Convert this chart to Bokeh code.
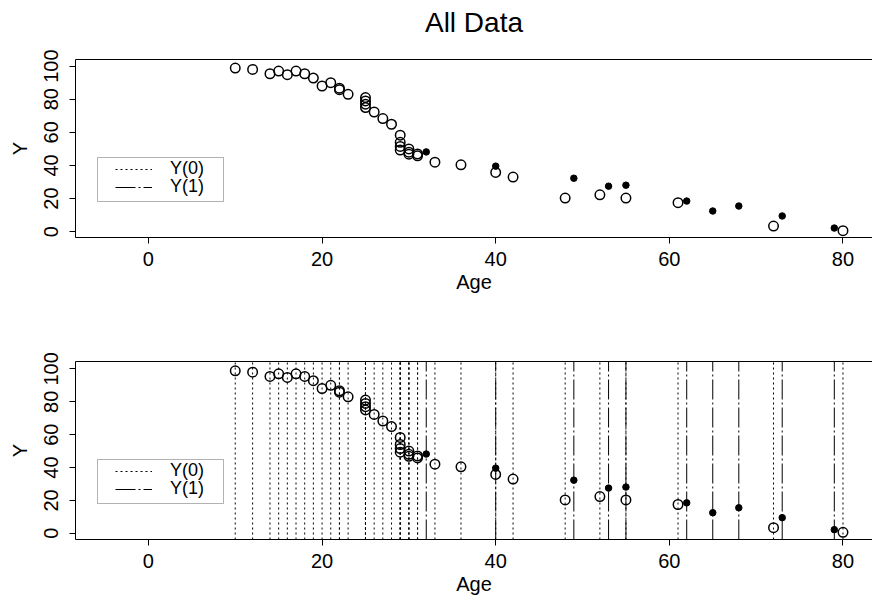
from bokeh.plotting import figure
from bokeh.models import (Range1d, FixedTicker, LinearAxis, Legend, LegendItem,
                          ColumnDataSource, BoxAnnotation)
from bokeh.layouts import column
from bokeh.embed import file_html
from bokeh.resources import INLINE

# ---- data ----
# Y(0): control units (open circles)
age0 = [10, 12, 14, 15, 16, 17, 18, 19, 20, 21, 22, 22, 23, 25, 25, 25, 25,
        26, 27, 28, 29, 29, 29, 29, 30, 30, 30, 31, 31, 33, 36, 40, 42, 48,
        52, 55, 61, 72, 80]
y0 = [98.8, 98, 95.4, 97, 94.8, 97, 95.4, 92.8, 88, 90, 86.7, 85.8, 83, 81,
      79, 77, 75, 72.3, 68.3, 64.9, 58.3, 54, 51.5, 49.3, 50, 48, 46.8, 47,
      45.8, 42, 40.4, 35.8, 33, 20.3, 22.3, 20.3, 17.5, 3.4, 0.6]
# Y(1): treated units (filled dots)
age1 = [32, 40, 49, 53, 55, 62, 65, 68, 73, 79]
y1 = [48.2, 39.6, 32.3, 27.5, 28.1, 18.5, 12.5, 15.5, 9.5, 2.2]

x_ticks = [0, 20, 40, 60, 80]
y_ticks = [0, 20, 40, 60, 80, 100]
x_lim = (-8.4, 83.4)
y_lim_top = (-3.5, 104)
y_lim_bottom = (-3.8, 104.5)
legend_labels = ["Y(0)", "Y(1)"]
title_text = "All Data"
x_label = "Age"
y_label = "Y"

FONT = "Liberation Sans"
DOT_DASH = "2 3"
DASH_DOT = "20 3 2 3"
NAN = float("nan")


def style_axis(ax, ticks):
    ax.ticker = FixedTicker(ticks=ticks)
    ax.axis_line_color = "black"
    ax.axis_line_width = 1
    ax.major_tick_line_color = "black"
    ax.major_tick_out = 6
    ax.major_tick_in = 0
    ax.minor_tick_line_color = None
    ax.major_label_text_font = FONT
    ax.major_label_text_font_size = "20px"
    ax.major_label_text_color = "black"
    ax.axis_label_text_font = FONT
    ax.axis_label_text_font_size = "20px"
    ax.axis_label_text_font_style = "normal"
    ax.axis_label_text_color = "black"


def make_legend(label, renderer, y_offset):
    lg = Legend(items=[LegendItem(label=label, renderers=[renderer])],
                location=(40, y_offset))
    lg.border_line_color = None
    lg.background_fill_alpha = 0
    lg.label_text_font = FONT
    lg.label_text_font_size = "18px"
    lg.label_text_color = "black"
    lg.glyph_width = 37
    lg.glyph_height = 14
    lg.label_height = 14
    lg.label_standoff = 18
    lg.spacing = 0
    lg.padding = 0
    lg.margin = 0
    return lg


def make_panel(height, border_top, border_bottom, ylim, with_lines, title=None):
    p = figure(width=872, height=height, output_backend="svg",
               toolbar_location=None,
               x_range=Range1d(*x_lim), y_range=Range1d(*ylim),
               min_border_left=75, min_border_right=0,
               min_border_top=border_top, min_border_bottom=border_bottom,
               x_axis_label=x_label, y_axis_label=y_label)
    p.outline_line_color = None
    p.grid.visible = False
    p.background_fill_color = "white"
    p.border_fill_color = "white"

    for ax in p.xaxis:
        style_axis(ax, x_ticks)
        ax.major_label_standoff = 8
        ax.axis_label_standoff = 2
    for ax in p.yaxis:
        style_axis(ax, y_ticks)
        ax.major_label_orientation = "vertical"
        ax.major_label_standoff = 11
        ax.axis_label_standoff = 11

    # top border line; in the first panel it also carries the title
    top = LinearAxis(ticker=FixedTicker(ticks=[]), axis_line_color="black",
                     major_tick_line_color=None, minor_tick_line_color=None,
                     major_tick_out=0, major_label_standoff=0,
                     major_label_text_font_size="0px")
    if title is not None:
        top.axis_label = title
        top.axis_label_text_font = FONT
        top.axis_label_text_font_size = "28px"
        top.axis_label_text_font_style = "normal"
        top.axis_label_text_color = "black"
        top.axis_label_standoff = 22
    p.add_layout(top, "above")

    if with_lines:
        s0 = ColumnDataSource(dict(x=age0, lo=[ylim[0]] * len(age0),
                                   hi=[ylim[1]] * len(age0)))
        s1 = ColumnDataSource(dict(x=age1, lo=[ylim[0]] * len(age1),
                                   hi=[ylim[1]] * len(age1)))
        p.segment(x0="x", y0="lo", x1="x", y1="hi", source=s0,
                  line_color="black", line_width=1, line_dash=DOT_DASH)
        p.segment(x0="x", y0="lo", x1="x", y1="hi", source=s1,
                  line_color="black", line_width=1, line_dash=DASH_DOT)

    p.scatter(age0, y0, marker="circle", size=9.5, fill_color=None,
              line_color="black", line_width=1.5)
    p.scatter(age1, y1, marker="circle", size=6.5, fill_color="black",
              line_color="black")

    # legend frame (box in screen units relative to the plot frame)
    box = BoxAnnotation(left=22, right=148, bottom=36, top=80,
                        left_units="screen", right_units="screen",
                        bottom_units="screen", top_units="screen",
                        fill_color="white", fill_alpha=1,
                        line_color="black", line_width=1, level="annotation")
    p.add_layout(box)

    # legend proxies (one legend per entry, so the rows can sit close)
    r0 = p.line(x=[NAN], y=[NAN], line_color="black", line_width=1,
                line_dash=DOT_DASH)
    r1 = p.line(x=[NAN], y=[NAN], line_color="black", line_width=1,
                line_dash=DASH_DOT)
    p.add_layout(make_legend(legend_labels[0], r0, 58), "center")
    p.add_layout(make_legend(legend_labels[1], r1, 40), "center")
    return p


p1 = make_panel(300, 59, 63, y_lim_top, False, title=title_text)
p2 = make_panel(299, 61, 60, y_lim_bottom, True)

layout = column(p1, p2, spacing=0)
open("out.html", "w").write(file_html(layout, INLINE))
